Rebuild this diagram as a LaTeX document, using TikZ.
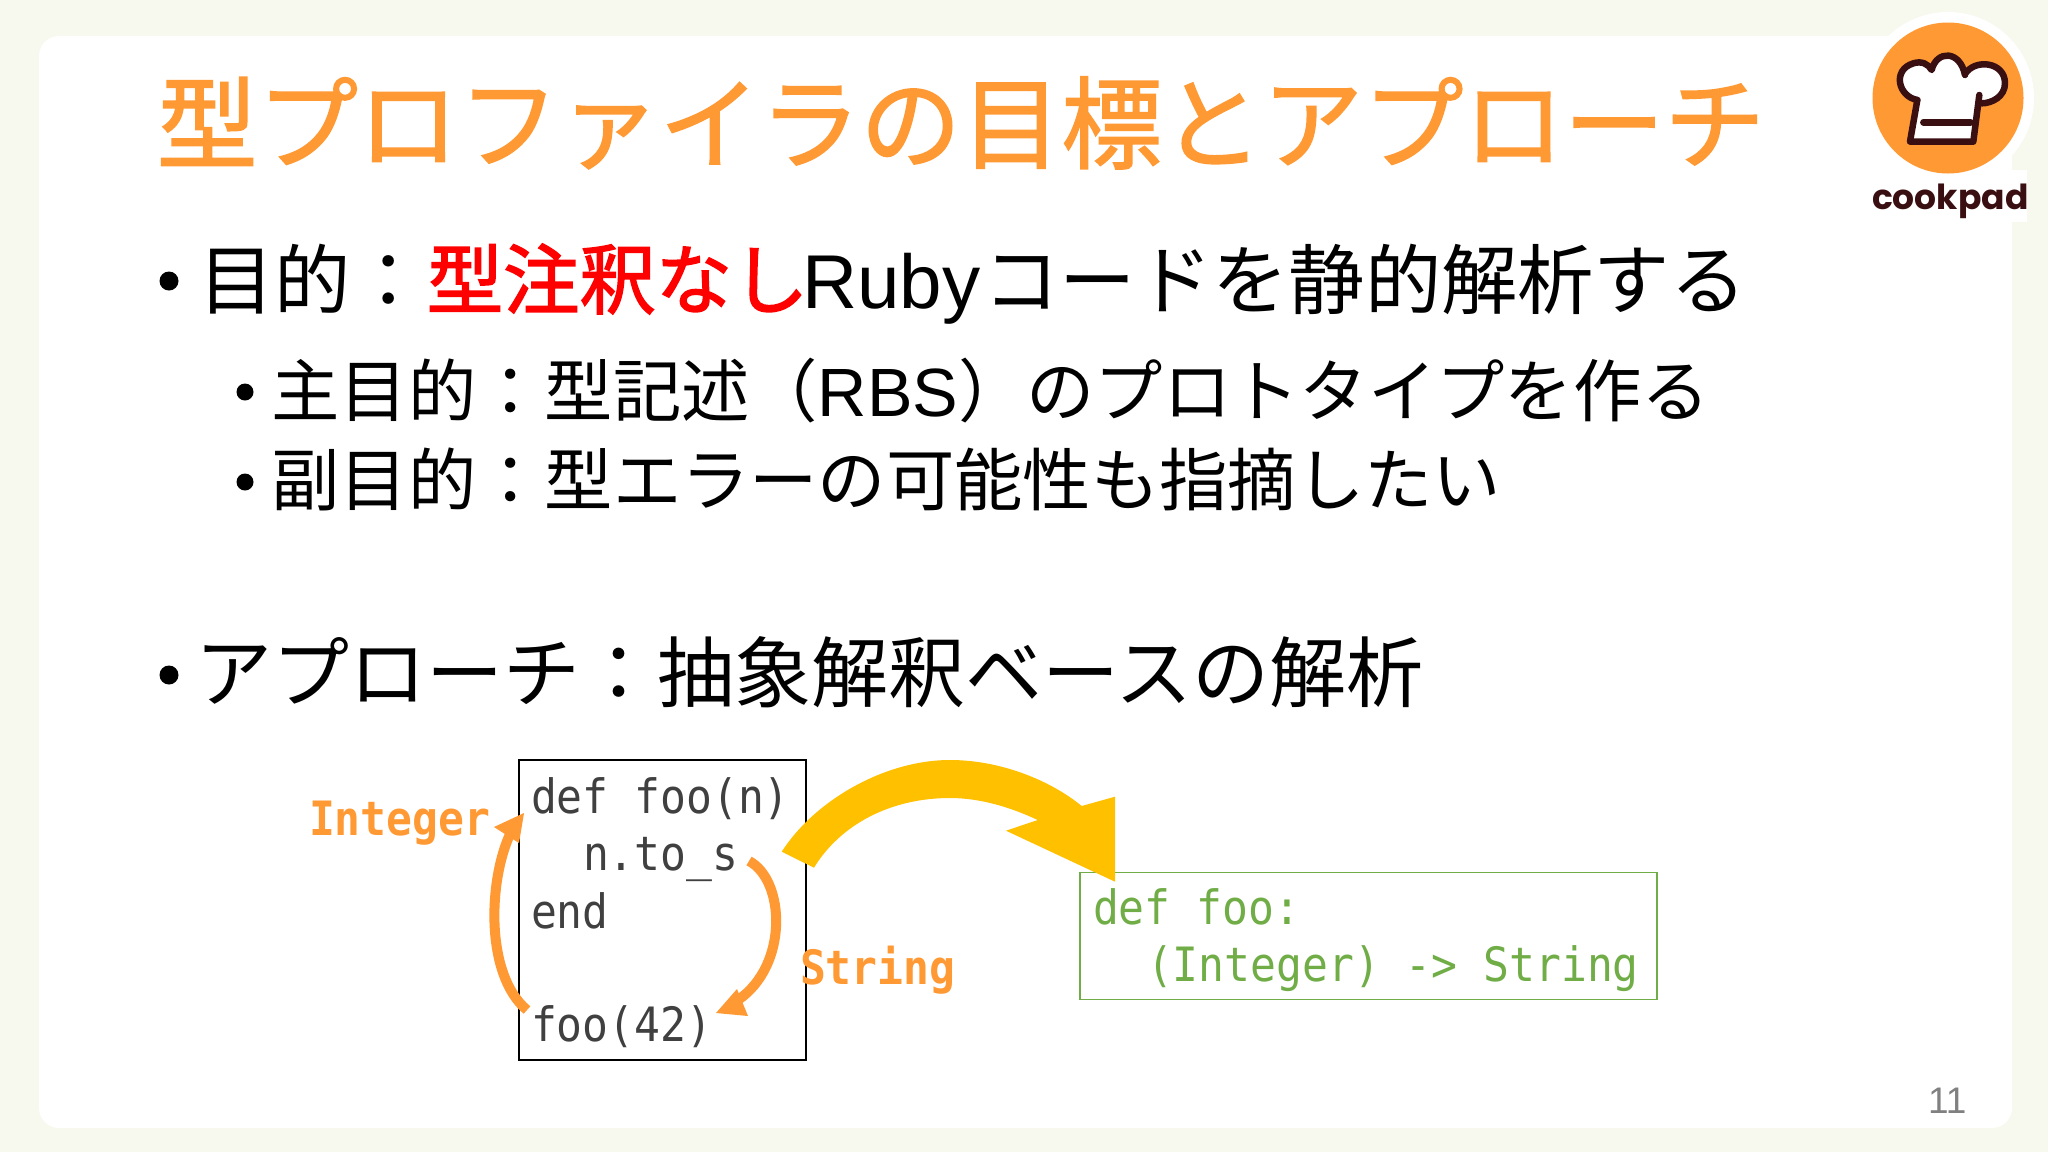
\documentclass[tikz,border=0pt]{standalone}
\usepackage{fontspec}
\setmainfont{Noto Sans CJK JP}
\newfontfamily\latinfont{Liberation Sans}
\newfontfamily\codefont{DejaVu Sans Mono}
\newfontfamily\logofont{Poppins}
\newfontfamily\titlefont[FakeBold=1.5]{Noto Sans CJK JP}
\newfontfamily\redfont[FakeBold=2]{Noto Sans CJK JP}
\newcommand{\fsz}[1]{\fontsize{#1}{#1}\selectfont}
\definecolor{pagebg}{HTML}{F7F8EE}
\definecolor{cporange}{HTML}{FF9933}
\definecolor{cpdark}{HTML}{3A0F12}
\definecolor{gold}{HTML}{FFC000}
\definecolor{codegreen}{HTML}{70AD47}
\definecolor{codegray}{HTML}{404040}
\definecolor{hotred}{HTML}{FF0000}
\tikzset{
  txt/.style={anchor=base west,inner sep=0pt,outer sep=0pt},
  codeshape/.style={yscale=1.1,transform shape},
  codeline/.style={txt,codeshape,font=\codefont\fsz{43},text=codegray},
  typelabel/.style={txt,codeshape,font=\codefont\bfseries\fsz{43},text=cporange},
  greenline/.style={txt,codeshape,font=\codefont\fsz{43},text=codegreen},
  flowarrow/.style={draw=cporange,line width=10pt},
  flowhead/.style={fill=cporange,draw=none},
  hatline/.style={draw=cpdark,line width=6.5pt,line cap=round,line join=round},
}
\begin{document}
\begin{tikzpicture}[x=1pt,y=-1pt]
\useasboundingbox (0,0) rectangle (2048,1152);
\fill[pagebg] (0,0) rectangle (2048,1152);
\fill[white,rounded corners=20pt] (39,36) rectangle (2012,1128);
% title
\node[txt,text=cporange,font=\titlefont\fsz{100.5}] (title) at (157,161) {型プロファイラの目標とアプローチ};
% bullets
\node[txt,font=\fsz{76.3}] (l1) at (198,308) {目的：{\redfont\color{hotred}型注釈なし}\hspace{-6pt}{\latinfont Ruby}\hspace{3pt}コードを静的解析する};
\node[txt,font=\fsz{68.3}] (l2) at (271.5,416) {主目的：型記述（{\latinfont RBS}）のプロトタイプを作る};
\node[txt,font=\fsz{68.3}] (l3) at (271.5,505) {副目的：型エラーの可能性も指摘したい};
\node[txt,font=\fsz{77}] (l4) at (195,701) {アプローチ：抽象解釈ベースの解析};
\fill (169,281) circle (9.5pt);
\fill (245,392) circle (8.5pt);
\fill (245,482) circle (8.5pt);
\fill (169,675) circle (9.5pt);
% code box
\node[draw=black,line width=2.5pt,minimum width=287pt,minimum height=300pt,inner sep=0pt,anchor=north west] (codebox) at (517.5,758.5) {};
\node[codeline] (c1) at (531,813) {def foo(n)};
\node[codeline] (c2) at (583,870) {n.to\_s};
\node[codeline] (c3) at (531,928) {end};
\node[codeline] (c4) at (531,1041) {foo(42)};
\node[typelabel] (intl) at (309,835) {Integer};
\node[typelabel] (strl) at (800,984) {String};
% green box
\node[draw=codegreen,line width=1.5pt,minimum width=577pt,minimum height=127pt,inner sep=0pt,anchor=north west] (sigbox) at (1079,871.5) {};
\node[greenline] (s1) at (1093,924) {def foo:};
\node[greenline] (s2) at (1147,981) {(Integer) -> String};
% orange arrows
\coordinate (a1s) at (527,1010);
\coordinate (a1e) at (511,832);
\draw[flowarrow] (a1s) .. controls (485,975) and (488,880) .. (a1e);
\fill[flowhead] (524,813) -- (494,827) -- (519,843) -- cycle;
\coordinate (a2s) at (749,861);
\coordinate (a2e) at (738,1000);
\draw[flowarrow] (a2s) .. controls (785,880) and (789,965) .. (a2e);
\fill[flowhead] (716,1013) -- (737,989) -- (748,1016) -- cycle;
% yellow arrow
\fill[gold] (781.7,851.7) .. controls (815,800) and (885,760) .. (950,760)
  .. controls (1000,760) and (1050,780) .. (1081.7,806)
  -- (1115,796.7) -- (1115,881.7) -- (1006,830.7) -- (1037.7,820)
  .. controls (1010,807) and (980,798) .. (950,798)
  .. controls (890,798) and (840,825) .. (814,867.7) -- cycle;
% logo
\fill[white] (1948,98) circle (86pt);
\fill[white] (1868,170) rectangle (2027,222);
\fill[cporange] (1948,98) circle (75.5pt);
\begin{scope}[shift={(1800,0)},x=0.3333pt,y=-0.3333pt]
\fill[white] (335,425) -- (352,300) .. controls (295,290) and (275,210) .. (340,190)
  .. controls (365,182) and (385,192) .. (395,205) .. controls (410,150) and (480,150) .. (495,215)
  .. controls (520,180) and (615,185) .. (615,250) .. controls (615,290) and (575,310) .. (542,310) -- (520,425) -- cycle;
\draw[hatline] (352,300) .. controls (295,290) and (275,210) .. (340,190)
  .. controls (365,182) and (385,192) .. (395,210) .. controls (410,150) and (480,150) .. (495,225);
\draw[hatline] (495,222) .. controls (525,175) and (615,185) .. (615,250) .. controls (615,290) and (575,310) .. (545,310);
\draw[hatline] (352,300) -- (330,425) -- (520,425) -- (538,285);
\draw[hatline] (370,367) -- (512,367);
\end{scope}
\node[txt,text=cpdark,font=\logofont\bfseries\fsz{34.5}] (logo) at (1872,209) {cookpad};
% page number
\node[txt,text=gray,font=\latinfont\fsz{37}] (pg) at (1928,1113) {11};
\end{tikzpicture}
\end{document}
